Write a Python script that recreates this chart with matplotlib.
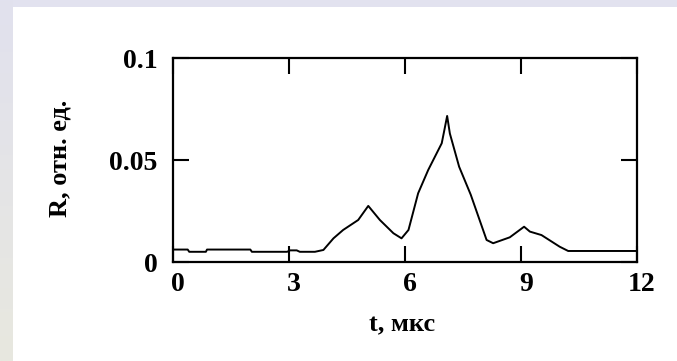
import numpy as np
import matplotlib.pyplot as plt
import matplotlib.transforms as mtransforms

# reflectance signal R(t)
t = [0.0, 0.38, 0.42, 0.85, 0.88, 2.0, 2.04, 2.95, 3.03, 3.2, 3.28, 3.67,
     3.89, 4.15, 4.40, 4.79, 5.05, 5.35, 5.70, 5.91, 6.09, 6.34, 6.60,
     6.95, 7.01, 7.09, 7.16, 7.40, 7.70, 8.11, 8.28, 8.71, 9.08, 9.23,
     9.53, 10.0, 10.22, 12.0]
R = [0.0061, 0.0061, 0.0050, 0.0050, 0.0061, 0.0061, 0.0050, 0.0050,
     0.0057, 0.0057, 0.0050, 0.0050, 0.0059, 0.0116, 0.0157, 0.0206,
     0.0275, 0.0206, 0.0141, 0.0116, 0.0157, 0.0337, 0.0451, 0.0582,
     0.0639, 0.0716, 0.0630, 0.0467, 0.0330, 0.0108, 0.0092, 0.0121,
     0.0173, 0.0149, 0.0132, 0.0075, 0.0054, 0.0054]

xticks = [0, 3, 6, 9, 12]
yticks = [0, 0.05, 0.1]
ytick_labels = ['0', '0.05', '0.1']

serif = 'Liberation Serif'

W, H = 677, 361
fig = plt.figure(figsize=(W / 100, H / 100), dpi=100)
fig.patch.set_facecolor('white')

# frame bands
top = fig.add_axes([0, 1 - 7 / H, 1, 7 / H])
top.set_facecolor('#e2e2ef')
top.axis('off')
top.add_patch(plt.Rectangle((0, 0), 1, 1, color='#e2e2ef', transform=top.transAxes))

left = fig.add_axes([0, 0, 13 / W, 1])
grad = np.linspace(0, 1, 256)[:, None]
c_top = np.array([0xe1, 0xe1, 0xee]) / 255
c_bot = np.array([0xe8, 0xe8, 0xdf]) / 255
img = c_top[None, None, :] * (1 - grad[:, :, None]) + c_bot[None, None, :] * grad[:, :, None]
left.imshow(img, aspect='auto', extent=[0, 1, 1, 0])
left.axis('off')

ax = fig.add_axes([173 / W, (H - 262) / H, 464 / W, 204 / H])
ax.plot(t, R, color='black', lw=1.4)
ax.set_xlim(0, 12)
ax.set_ylim(0, 0.1)

for s in ax.spines.values():
    s.set_linewidth(1.6)

ax.set_xticks(xticks)
ax.set_xticklabels([str(v) for v in xticks])
ax.set_yticks(yticks)
ax.set_yticklabels(ytick_labels)
ax.tick_params(direction='in', length=11.5, width=1.5, top=True, right=True)
ax.tick_params(axis='x', pad=7)
ax.tick_params(axis='y', pad=11)

for lab in ax.get_xticklabels() + ax.get_yticklabels():
    lab.set_fontfamily(serif)
    lab.set_fontweight('bold')
    lab.set_fontsize(20)

shift = mtransforms.ScaledTranslation(5 / 100, 0, fig.dpi_scale_trans)
for lab in ax.get_xticklabels():
    lab.set_transform(lab.get_transform() + shift)

fig.text(402 / W, 1 - 325 / H, 't, мкс', family=serif, weight='bold',
         fontsize=19, ha='center', va='center')
fig.text(60 / W, 1 - 158 / H, 'R, отн. ед.', family=serif, weight='bold',
         fontsize=19, ha='center', va='center', rotation=90)

fig.savefig('out.png', dpi=100)
